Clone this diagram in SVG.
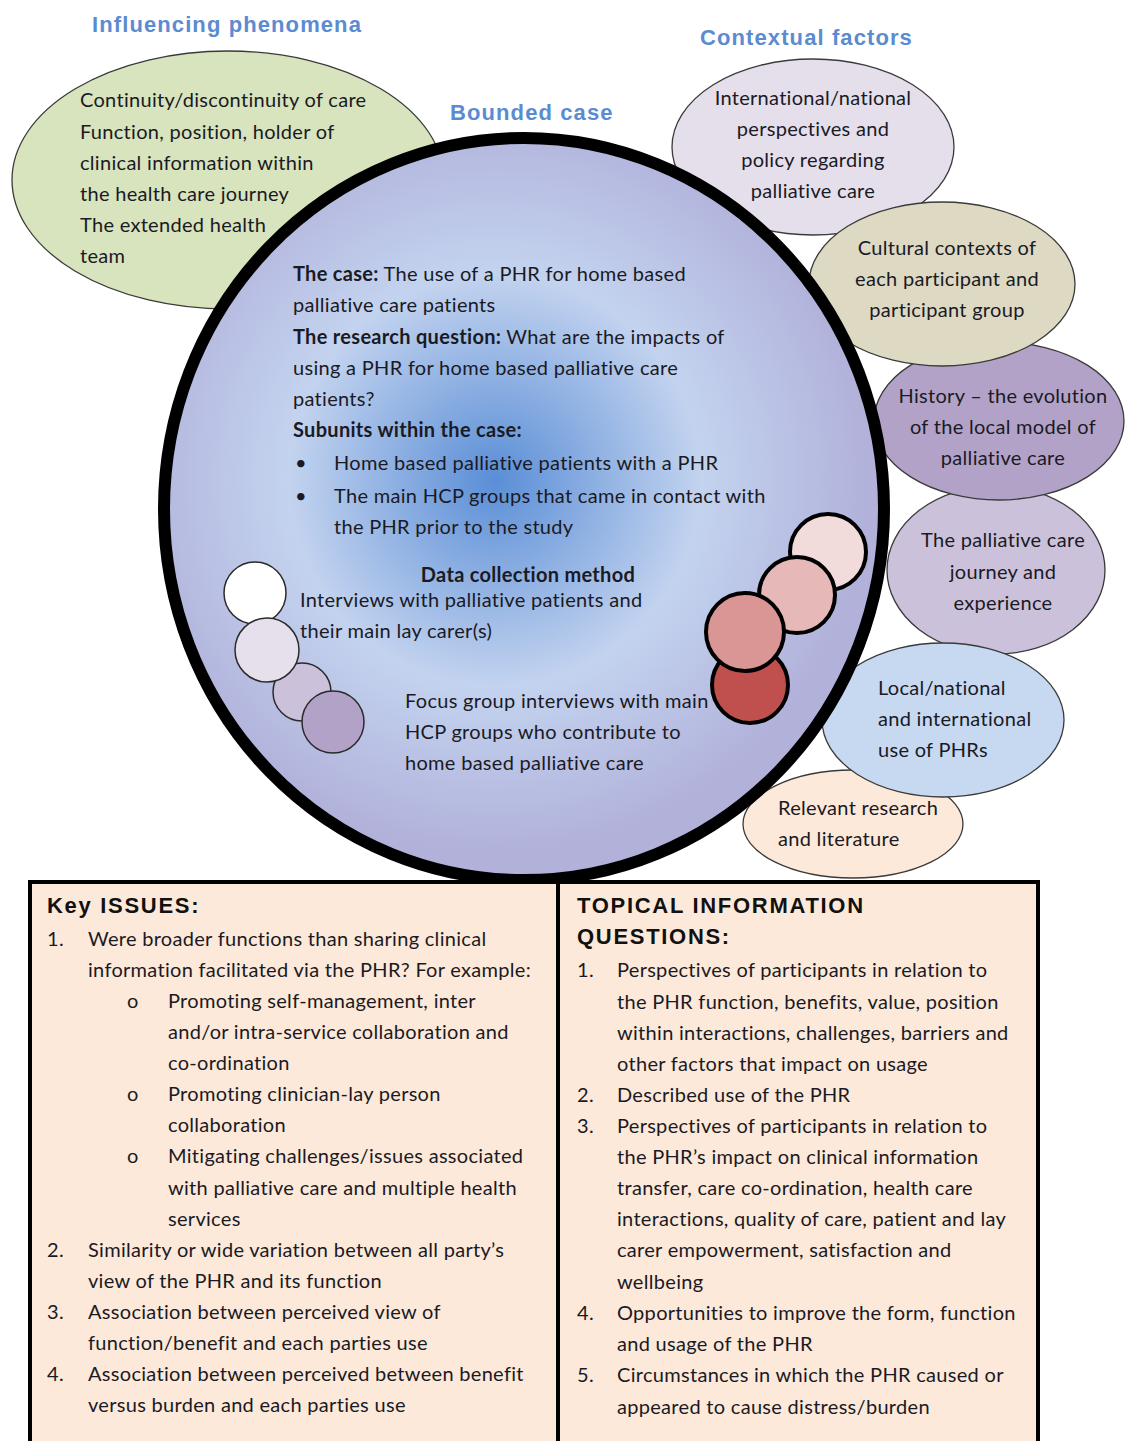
<svg xmlns="http://www.w3.org/2000/svg" width="1125" height="1441" viewBox="0 0 1125 1441">
<defs>
<radialGradient id="caseGrad" gradientUnits="userSpaceOnUse" cx="495" cy="480" r="375">
<stop offset="0" stop-color="#5a8ed6"/>
<stop offset="0.55" stop-color="#c3d3ef"/>
<stop offset="1" stop-color="#b1b1da"/>
</radialGradient>
<style>
.ttl{font-family:"Liberation Sans",Arial,sans-serif;font-weight:bold;font-size:22px;fill:#5b8bd0;letter-spacing:1.1px}
.t{font-family:Lato,"Liberation Sans",sans-serif;font-size:20px;fill:#1a1a24;letter-spacing:0.3px}
.b{font-weight:bold}
.c{text-anchor:middle}
.hd{font-family:"Liberation Sans",Arial,sans-serif;font-weight:bold;font-size:22px;fill:#111;letter-spacing:1.7px}
.ell{stroke:#3a3a3a;stroke-width:1.3}
.sm{stroke:#2a2a2a;stroke-width:1.5}
.big{stroke:#000;stroke-width:4}
.box{fill:#fde9d9;stroke:#000;stroke-width:4}
</style>
</defs>
<rect width="1125" height="1441" fill="#fff"/>

<text class="ttl" x="92" y="32">Influencing phenomena</text>
<text class="ttl" x="700" y="45">Contextual factors</text>

<g id="influencing">
<ellipse class="ell" cx="228" cy="180" rx="216" ry="129" fill="#d7e4bd"/>
<text class="t" x="80" y="107">Continuity/discontinuity of care</text>
<text class="t" x="80" y="139">Function, position, holder of</text>
<text class="t" x="80" y="170">clinical information within</text>
<text class="t" x="80" y="201">the health care journey</text>
<text class="t" x="80" y="232">The extended health</text>
<text class="t" x="80" y="263">team</text>
</g>

<g id="ctx-international">
<ellipse class="ell" cx="813" cy="147" rx="141" ry="88" fill="#e5dfec"/>
<text class="t c" x="813" y="105">International/national</text>
<text class="t c" x="813" y="136">perspectives and</text>
<text class="t c" x="813" y="167">policy regarding</text>
<text class="t c" x="813" y="198">palliative care</text>
</g>

<g id="ctx-research">
<ellipse class="ell" cx="853" cy="824" rx="110" ry="54" fill="#fde9d9"/>
<text class="t" x="778" y="815">Relevant research</text>
<text class="t" x="778" y="846">and literature</text>
</g>

<g id="ctx-journey">
<ellipse class="ell" cx="996" cy="570" rx="109" ry="84" fill="#ccc1da"/>
<text class="t c" x="1003" y="547">The palliative care</text>
<text class="t c" x="1003" y="579">journey and</text>
<text class="t c" x="1003" y="610">experience</text>
</g>

<g id="ctx-phrs">
<ellipse class="ell" cx="943" cy="720" rx="121" ry="77" fill="#c6d9f1"/>
<text class="t" x="878" y="695">Local/national</text>
<text class="t" x="878" y="726">and international</text>
<text class="t" x="878" y="757">use of PHRs</text>
</g>

<g id="ctx-history">
<ellipse class="ell" cx="999" cy="421" rx="125" ry="79" fill="#b3a2c7"/>
<text class="t c" x="1003" y="403">History – the evolution</text>
<text class="t c" x="1003" y="434">of the local model of</text>
<text class="t c" x="1003" y="465">palliative care</text>
</g>

<g id="ctx-cultural">
<ellipse class="ell" cx="942" cy="284" rx="133" ry="82" fill="#ddd9c3"/>
<text class="t c" x="947" y="255">Cultural contexts of</text>
<text class="t c" x="947" y="286">each participant and</text>
<text class="t c" x="947" y="317">participant group</text>
</g>

<text class="ttl" x="450" y="120">Bounded case</text>

<g id="bounded-case">
<ellipse cx="524" cy="509" rx="360" ry="371" fill="url(#caseGrad)" stroke="#000" stroke-width="12"/>
<text class="t" x="293" y="281"><tspan class="b">The case:</tspan> The use of a PHR for home based</text>
<text class="t" x="293" y="312">palliative care patients</text>
<text class="t" x="293" y="344"><tspan class="b">The research question:</tspan> What are the impacts of</text>
<text class="t" x="293" y="375">using a PHR for home based palliative care</text>
<text class="t" x="293" y="406">patients?</text>
<text class="t b" x="293" y="437">Subunits within the case:</text>
<text class="t" x="295" y="470">•</text>
<text class="t" x="334" y="470">Home based palliative patients with a PHR</text>
<text class="t" x="295" y="503">•</text>
<text class="t" x="334" y="503">The main HCP groups that came in contact with</text>
<text class="t" x="334" y="534">the PHR prior to the study</text>
<text class="t b c" x="528" y="582">Data collection method</text>
<text class="t" x="300" y="607">Interviews with palliative patients and</text>
<text class="t" x="300" y="638">their main lay carer(s)</text>
<text class="t" x="405" y="708">Focus group interviews with main</text>
<text class="t" x="405" y="739">HCP groups who contribute to</text>
<text class="t" x="405" y="770">home based palliative care</text>
</g>

<g id="interview-circles">
<circle class="sm" cx="302" cy="692" r="29" fill="#ccc1da"/>
<circle class="sm" cx="333" cy="722" r="31" fill="#b3a2c7"/>
<circle class="sm" cx="255" cy="593" r="31" fill="#ffffff"/>
<circle class="sm" cx="267" cy="650" r="32" fill="#e5e0ec"/>
</g>

<g id="focus-circles">
<circle class="big" cx="828" cy="552" r="38" fill="#f2dcdb"/>
<circle class="big" cx="797" cy="595" r="38" fill="#e6b9b8"/>
<circle class="big" cx="750" cy="685" r="38" fill="#c0504d"/>
<circle class="big" cx="745" cy="632" r="39" fill="#d99694"/>
</g>

<g id="key-issues">
<rect class="box" x="30" y="882" width="528" height="570"/>
<text class="hd" x="47" y="913">Key ISSUES:</text>
<text class="t" x="47" y="946">1.</text>
<text class="t" x="88" y="946">Were broader functions than sharing clinical</text>
<text class="t" x="88" y="977">information facilitated via the PHR?  For example:</text>
<text class="t" x="127" y="1008">o</text>
<text class="t" x="168" y="1008">Promoting self-management, inter</text>
<text class="t" x="168" y="1039">and/or intra-service collaboration and</text>
<text class="t" x="168" y="1070">co-ordination</text>
<text class="t" x="127" y="1101">o</text>
<text class="t" x="168" y="1101">Promoting clinician-lay person</text>
<text class="t" x="168" y="1132">collaboration</text>
<text class="t" x="127" y="1163">o</text>
<text class="t" x="168" y="1163">Mitigating challenges/issues associated</text>
<text class="t" x="168" y="1195">with palliative care and multiple health</text>
<text class="t" x="168" y="1226">services</text>
<text class="t" x="47" y="1257">2.</text>
<text class="t" x="88" y="1257">Similarity or wide variation between all party’s</text>
<text class="t" x="88" y="1288">view of the PHR and its function</text>
<text class="t" x="47" y="1319">3.</text>
<text class="t" x="88" y="1319">Association between perceived view of</text>
<text class="t" x="88" y="1350">function/benefit and each parties use</text>
<text class="t" x="47" y="1381">4.</text>
<text class="t" x="88" y="1381">Association between perceived between benefit</text>
<text class="t" x="88" y="1412">versus burden and each parties use</text>
</g>

<g id="topical-questions">
<rect class="box" x="558" y="882" width="480" height="570"/>
<text class="hd" x="577" y="913">TOPICAL INFORMATION</text>
<text class="hd" x="577" y="944">QUESTIONS:</text>
<text class="t" x="577" y="977">1.</text>
<text class="t" x="617" y="977">Perspectives of participants in relation to</text>
<text class="t" x="617" y="1009">the PHR function, benefits, value, position</text>
<text class="t" x="617" y="1040">within interactions, challenges, barriers and</text>
<text class="t" x="617" y="1071">other factors that impact on usage</text>
<text class="t" x="577" y="1102">2.</text>
<text class="t" x="617" y="1102">Described use of the PHR</text>
<text class="t" x="577" y="1133">3.</text>
<text class="t" x="617" y="1133">Perspectives of participants in relation to</text>
<text class="t" x="617" y="1164">the PHR’s impact on clinical information</text>
<text class="t" x="617" y="1195">transfer, care co-ordination, health care</text>
<text class="t" x="617" y="1226">interactions, quality of care, patient and lay</text>
<text class="t" x="617" y="1257">carer empowerment, satisfaction and</text>
<text class="t" x="617" y="1289">wellbeing</text>
<text class="t" x="577" y="1320">4.</text>
<text class="t" x="617" y="1320">Opportunities to improve the form, function</text>
<text class="t" x="617" y="1351">and usage of the PHR</text>
<text class="t" x="577" y="1382">5.</text>
<text class="t" x="617" y="1382">Circumstances in which the PHR caused or</text>
<text class="t" x="617" y="1414">appeared to cause distress/burden</text>
</g>
</svg>
